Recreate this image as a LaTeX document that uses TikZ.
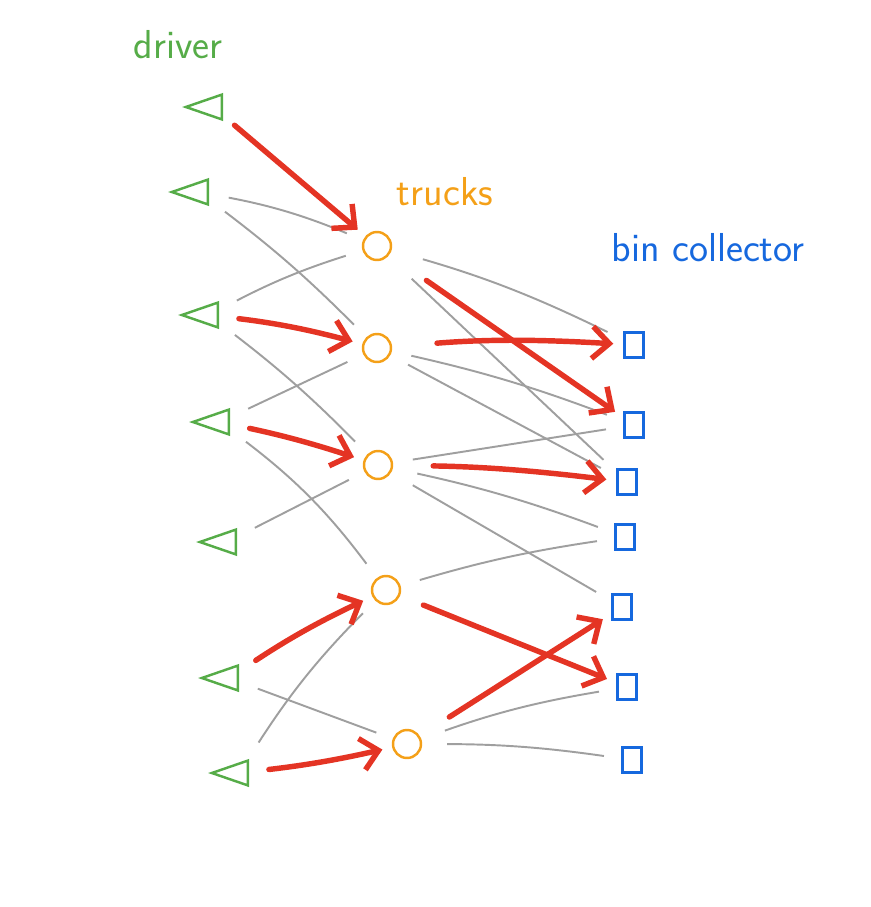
\documentclass[tikz,border=0pt]{standalone}
\usepackage{xcolor}
\usetikzlibrary{arrows.meta,shapes.geometric}
\definecolor{drvgreen}{RGB}{86,172,72}
\definecolor{trkorange}{RGB}{244,160,24}
\definecolor{binblue}{RGB}{22,104,222}
\definecolor{pickred}{RGB}{228,52,36}
\tikzset{>={Straight Barb[length=3.4mm,width=6.4mm]}}
\tikzset{
	driver/.style={draw=drvgreen, isosceles triangle, shape border rotate=180, isosceles triangle apex angle=38, line width=1.4pt, minimum height=0.72cm, inner sep=0pt},
	truck/.style={draw=trkorange, circle, line width=1.4pt, minimum size=0.56cm, inner sep=0pt},
	bin/.style={draw=binblue, rectangle, line width=1.4pt, minimum width=0.38cm, minimum height=0.5cm, inner sep=0pt},
	cand/.style={draw=gray!75, line width=1.1pt, shorten <=#1, shorten >=0.35cm},
	cand/.default=0.4cm,
	assign/.style={draw=pickred, line width=3.1pt, line cap=round, ->, shorten <=#1, shorten >=0.2cm},
	assign/.default=0.4cm,
	tag/.style={font=\sffamily\fontsize{23}{25}\selectfont},
}

\begin{document}
\begin{tikzpicture}[x=0.02cm, y=-0.02cm]
	\useasboundingbox (0,0) rectangle (870,907);
	% drivers
	\node[driver] (d1) at (213,107) {}; %driver 1
	\node[driver] (d2) at (199,192) {}; %driver 2
	\node[driver] (d3) at (209,315) {}; %driver 3
	\node[driver] (d4) at (220,422) {}; %driver 4
	\node[driver] (d5) at (227,542) {}; %driver 5
	\node[driver] (d6) at (229,678) {}; %driver 6
	\node[driver] (d7) at (239,773) {}; %driver 7
	% trucks
	\node[truck] (t1) at (377,246) {}; %truck 1
	\node[truck] (t2) at (377,348) {}; %truck 2
	\node[truck] (t3) at (378,465) {}; %truck 3
	\node[truck] (t4) at (386,590) {}; %truck 4
	\node[truck] (t5) at (407,744) {}; %truck 5
	% bin collectors
	\node[bin] (b1) at (634,345) {}; %bin 1
	\node[bin] (b2) at (634,425) {}; %bin 2
	\node[bin] (b3) at (627,482) {}; %bin 3
	\node[bin] (b4) at (625,537) {}; %bin 4
	\node[bin] (b5) at (622,607) {}; %bin 5
	\node[bin] (b6) at (627,687) {}; %bin 6
	\node[bin] (b7) at (632,760) {}; %bin 7

	% Drawing everything
	\draw[cand] (d2) to[bend left=6] (t1);
	\draw[cand] (d2) to[bend left=4] (t2);
	\draw[cand] (d3) to[bend left=5] (t1);
	\draw[cand] (d3) to[bend left=4] (t3);
	\draw[cand] (d4) -- (t2);
	\draw[cand] (d4) to[bend left=8] (t4);
	\draw[cand] (d5) -- (t3);
	\draw[cand] (d6) -- (t5);
	\draw[cand] (d7) to[bend left=6] (t4);
	\draw[cand=0.65cm] (t1) to[bend left=5] (b1);
	\draw[cand=0.65cm] (t1) -- (b3);
	\draw[cand=0.4cm] (t2) to[bend left=4] (b2);
	\draw[cand=0.4cm] (t2) -- (b3);
	\draw[cand=0.4cm] (t3) -- (b2);
	\draw[cand=0.5cm] (t3) to[bend left=4] (b4);
	\draw[cand=0.5cm] (t3) -- (b5);
	\draw[cand=0.4cm] (t4) to[bend left=4] (b4);
	\draw[cand=0.5cm] (t5) to[bend left=5] (b6);
	\draw[cand=0.5cm] (t5) to[bend left=4] (b7);
	\draw[assign=0.3cm] (d1) -- (t1);
	\draw[assign] (d3) to[bend left=4] (t2);
	\draw[assign] (d4) to[bend left=3] (t3);
	\draw[assign] (d6) to[bend left=4] (t4);
	\draw[assign] (d7) to[bend right=3] (t5);
	\draw[assign=0.9cm] (t1) -- (b2);
	\draw[assign=0.9cm] (t2) to[bend left=4] (b1);
	\draw[assign=0.8cm] (t3) to[bend left=3] (b3);
	\draw[assign=0.5cm] (t4) -- (b6);
	\draw[assign=0.7cm] (t5) -- (b5);

	% Extra labels
	\node[tag, text=drvgreen] (lbldrv) at (178,45) {driver};
	\node[tag, text=trkorange] (lbltrk) at (445,192) {trucks};
	\node[tag, text=binblue] (lblbin) at (708,248) {bin collector};
\end{tikzpicture}
\end{document}
